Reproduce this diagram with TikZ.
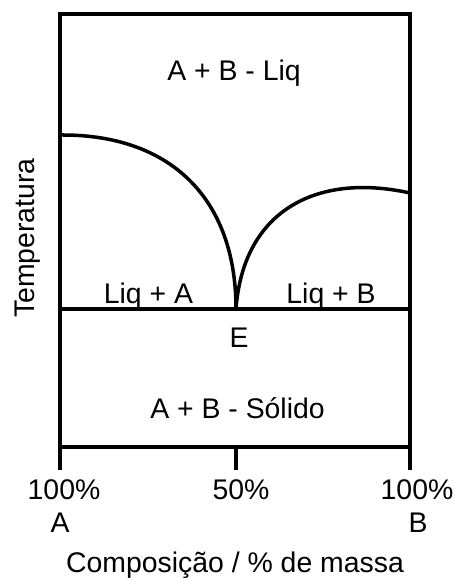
\documentclass[tikz,border=0pt]{standalone}
\usepackage{fontspec}
\setmainfont{Liberation Sans}
\usetikzlibrary{positioning}

\begin{document}
\begin{tikzpicture}[x=1bp,y=-1bp,font=\fontsize{28.5}{31}\selectfont,
   ln/.style={line width=3.5bp,line cap=rect},
   lbl/.style={inner sep=0pt,anchor=base}]
  \useasboundingbox (0,0) rectangle (454,578);
  % frame and axis
  \coordinate (tl) at (60,14);
  \coordinate (tr) at (410,14);
  \coordinate (bl) at (60,447);
  \coordinate (br) at (410,447);
  \coordinate (tkA) at (60,468);
  \coordinate (tkM) at (236,468);
  \coordinate (tkB) at (410,468);
  \coordinate (mid) at (236,447);
  \draw[ln] (tkA) -- (tl) -- (tr) -- (tkB);
  \draw[ln] (bl) -- (br);
  \draw[ln] (mid) -- (tkM);
  % eutectic line and liquidus curves
  \coordinate (eA) at (60,309);
  \coordinate (eB) at (410,309);
  \coordinate (E) at (236,309);
  \coordinate (ltop) at (60,135);
  \coordinate (rtop) at (410,193);
  \draw[ln] (eA) -- (eB);
  \draw[ln,line cap=butt] (ltop) .. controls (170,134) and (236,198) .. (E);
  \draw[ln,line cap=butt] (E) .. controls (243,212) and (315,172) .. (rtop);
  % labels
  \node[lbl] (liq) at (234,81) {A + B - Liq};
  \node[lbl] (liqA) at (148.5,303) {Liq + A};
  \node[lbl] (liqB) at (331,303) {Liq + B};
  \node[lbl] (lE) at (239,347) {E};
  \node[lbl] (sol) at (237.5,418) {A + B - Sólido};
  \node[lbl] (pA) at (64,499) {100\%};
  \node[lbl] (nA) at (60,532) {A};
  \node[lbl] (pM) at (241,499) {50\%};
  \node[lbl] (pB) at (417,499) {100\%};
  \node[lbl] (nB) at (418,532) {B};
  \node[lbl] (xlab) at (235,572) {Composição / \% de massa};
  \node[lbl,rotate=90] (ylab) at (34,238) {Temperatura};
\end{tikzpicture}
\end{document}
